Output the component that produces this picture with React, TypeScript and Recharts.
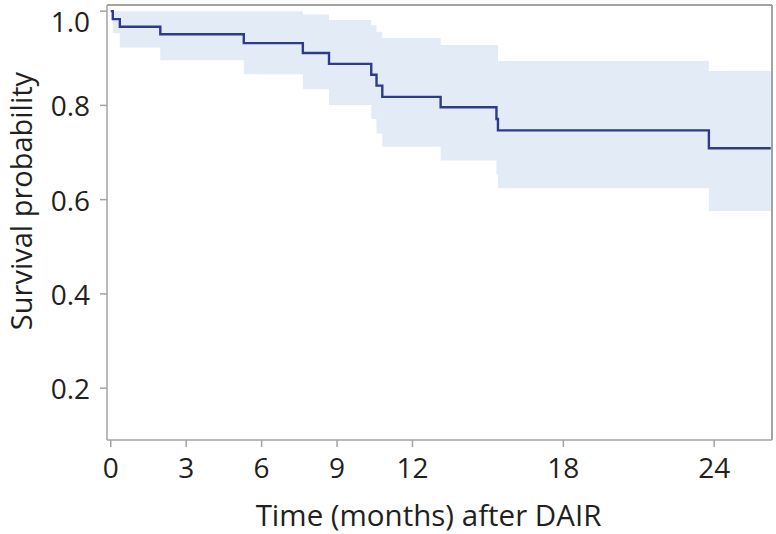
import React from "react";
import {
  ComposedChart,
  Area,
  Line,
  XAxis,
  YAxis,
  ReferenceLine,
  Label,
} from "recharts";

const times = [0, 0.08, 0.36, 1.97, 5.29, 7.64, 8.68, 10.36, 10.57, 10.8, 13.12, 15.34, 15.4, 23.79, 26.25];
const survival = [1.0, 0.983, 0.967, 0.951, 0.932, 0.911, 0.888, 0.865, 0.842, 0.818, 0.796, 0.771, 0.747, 0.709, 0.709];
const upperCI = [1.0, 1.0, 1.0, 1.0, 1.0, 0.993, 0.981, 0.97, 0.956, 0.943, 0.928, 0.928, 0.894, 0.873, 0.873];
const lowerCI = [1.0, 0.953, 0.923, 0.896, 0.866, 0.834, 0.801, 0.771, 0.74, 0.712, 0.683, 0.654, 0.624, 0.576, 0.576];

const xTicks = [0, 3, 6, 9, 12, 18, 24];
const yTicks = [0.2, 0.4, 0.6, 0.8, 1.0];
const xDomain = [-0.15, 26.3];
const yDomain = [0.09, 1.013];

const data = times.map((t, i) => ({
  t,
  s: survival[i],
  band: [lowerCI[i], upperCI[i]],
}));

const FONT = "'Open Sans', sans-serif";
const TEXT = "#231f20";
const AXIS = "#a3a3a3";

// top label sits a bit lower so it isn't clipped by the edge
const YTick = ({ x, y, payload }: any) => (
  <text
    x={x}
    y={Math.max(y, 21)}
    textAnchor="end"
    dominantBaseline="central"
    fill={TEXT}
    fontSize={28}
    fontFamily={FONT}
  >
    {payload.value.toFixed(1)}
  </text>
);

export default function App() {
  return (
    <div style={{ position: "absolute", left: 0, top: 0, background: "#fff" }}>
      <ComposedChart
        width={776}
        height={534}
        data={data}
        margin={{ top: 5, right: 4, left: 0, bottom: 0 }}
      >
        <XAxis
          dataKey="t"
          type="number"
          domain={xDomain}
          ticks={xTicks}
          allowDataOverflow
          height={94}
          stroke={AXIS}
          strokeWidth={1.5}
          tickSize={7}
          tickMargin={11}
          tick={{ fill: TEXT, fontSize: 28, fontFamily: FONT }}
        >
          <Label
            content={({ viewBox }: any) => (
              <text
                x={viewBox.x + viewBox.width / 2 - 11}
                y={526}
                textAnchor="middle"
                fill={TEXT}
                fontSize={29.5}
                fontFamily={FONT}
              >
                Time (months) after DAIR
              </text>
            )}
          />
        </XAxis>
        <YAxis
          type="number"
          domain={yDomain}
          ticks={yTicks}
          allowDataOverflow
          width={107}
          stroke={AXIS}
          strokeWidth={1.5}
          tickSize={7}
          tickMargin={10}
          tick={<YTick />}
        >
          <Label
            content={() => (
              <text
                x={20}
                y={201}
                transform="rotate(-90 20 201)"
                textAnchor="middle"
                dominantBaseline="central"
                fill={TEXT}
                fontSize={29}
                fontFamily={FONT}
              >
                Survival probability
              </text>
            )}
          />
        </YAxis>
        <ReferenceLine y={yDomain[1]} stroke={AXIS} strokeWidth={2} />
        <ReferenceLine x={xDomain[1]} stroke={AXIS} strokeWidth={2} />
        <Area
          dataKey="band"
          type="stepAfter"
          fill="#e3ebf6"
          fillOpacity={1}
          stroke="none"
          isAnimationActive={false}
        />
        <Line
          dataKey="s"
          type="stepAfter"
          stroke="#2e3a8c"
          strokeWidth={2.4}
          dot={false}
          isAnimationActive={false}
        />
      </ComposedChart>
    </div>
  );
}
